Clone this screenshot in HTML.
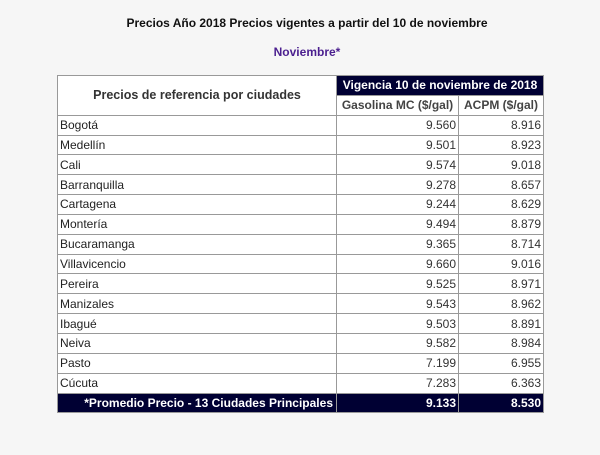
<!DOCTYPE html>
<html><head><meta charset="utf-8"><style>
body{margin:0;width:600px;height:455px;background:#f6f6f6;font-family:"Liberation Sans",Arial,sans-serif;position:relative;overflow:hidden}
.t{position:absolute;left:0;width:614px;text-align:center;font-weight:bold;font-size:12px}
table{position:absolute;left:57px;top:75px;border-collapse:collapse;border:1px solid #333;font-size:12px;color:#222;background:#fff}
td{border:1px solid #999;padding:0 2px;height:18.85px;line-height:12px}
td.n{text-align:right;color:#333}
.h{background:#000033;color:#fff;font-weight:bold}
</style></head><body>
<div class="t" style="top:16px;color:#111">Precios Año 2018 Precios vigentes a partir del 10 de noviembre</div>
<div class="t" style="top:45px;color:#4b1f8f">Noviembre*</div>
<table>
<colgroup><col style="width:279px"><col style="width:122px"><col style="width:85px"></colgroup>
<tr><td rowspan="2" style="text-align:center;font-weight:bold;font-size:12.5px;color:#333">Precios de referencia por ciudades</td><td colspan="2" class="h" style="text-align:center">Vigencia 10 de noviembre de 2018</td></tr>
<tr><td style="text-align:center;color:#444;font-weight:bold">Gasolina MC ($/gal)</td><td style="text-align:center;color:#444;font-weight:bold">ACPM ($/gal)</td></tr>
<tr><td>Bogotá</td><td class="n">9.560</td><td class="n">8.916</td></tr>
<tr><td>Medellín</td><td class="n">9.501</td><td class="n">8.923</td></tr>
<tr><td>Cali</td><td class="n">9.574</td><td class="n">9.018</td></tr>
<tr><td>Barranquilla</td><td class="n">9.278</td><td class="n">8.657</td></tr>
<tr><td>Cartagena</td><td class="n">9.244</td><td class="n">8.629</td></tr>
<tr><td>Montería</td><td class="n">9.494</td><td class="n">8.879</td></tr>
<tr><td>Bucaramanga</td><td class="n">9.365</td><td class="n">8.714</td></tr>
<tr><td>Villavicencio</td><td class="n">9.660</td><td class="n">9.016</td></tr>
<tr><td>Pereira</td><td class="n">9.525</td><td class="n">8.971</td></tr>
<tr><td>Manizales</td><td class="n">9.543</td><td class="n">8.962</td></tr>
<tr><td>Ibagué</td><td class="n">9.503</td><td class="n">8.891</td></tr>
<tr><td>Neiva</td><td class="n">9.582</td><td class="n">8.984</td></tr>
<tr><td>Pasto</td><td class="n">7.199</td><td class="n">6.955</td></tr>
<tr><td>Cúcuta</td><td class="n">7.283</td><td class="n">6.363</td></tr>
<tr class="h"><td style="text-align:right;padding-right:3px">*Promedio Precio - 13 Ciudades Principales</td><td class="n" style="color:#fff">9.133</td><td class="n" style="color:#fff">8.530</td></tr>
</table>
</body></html>
